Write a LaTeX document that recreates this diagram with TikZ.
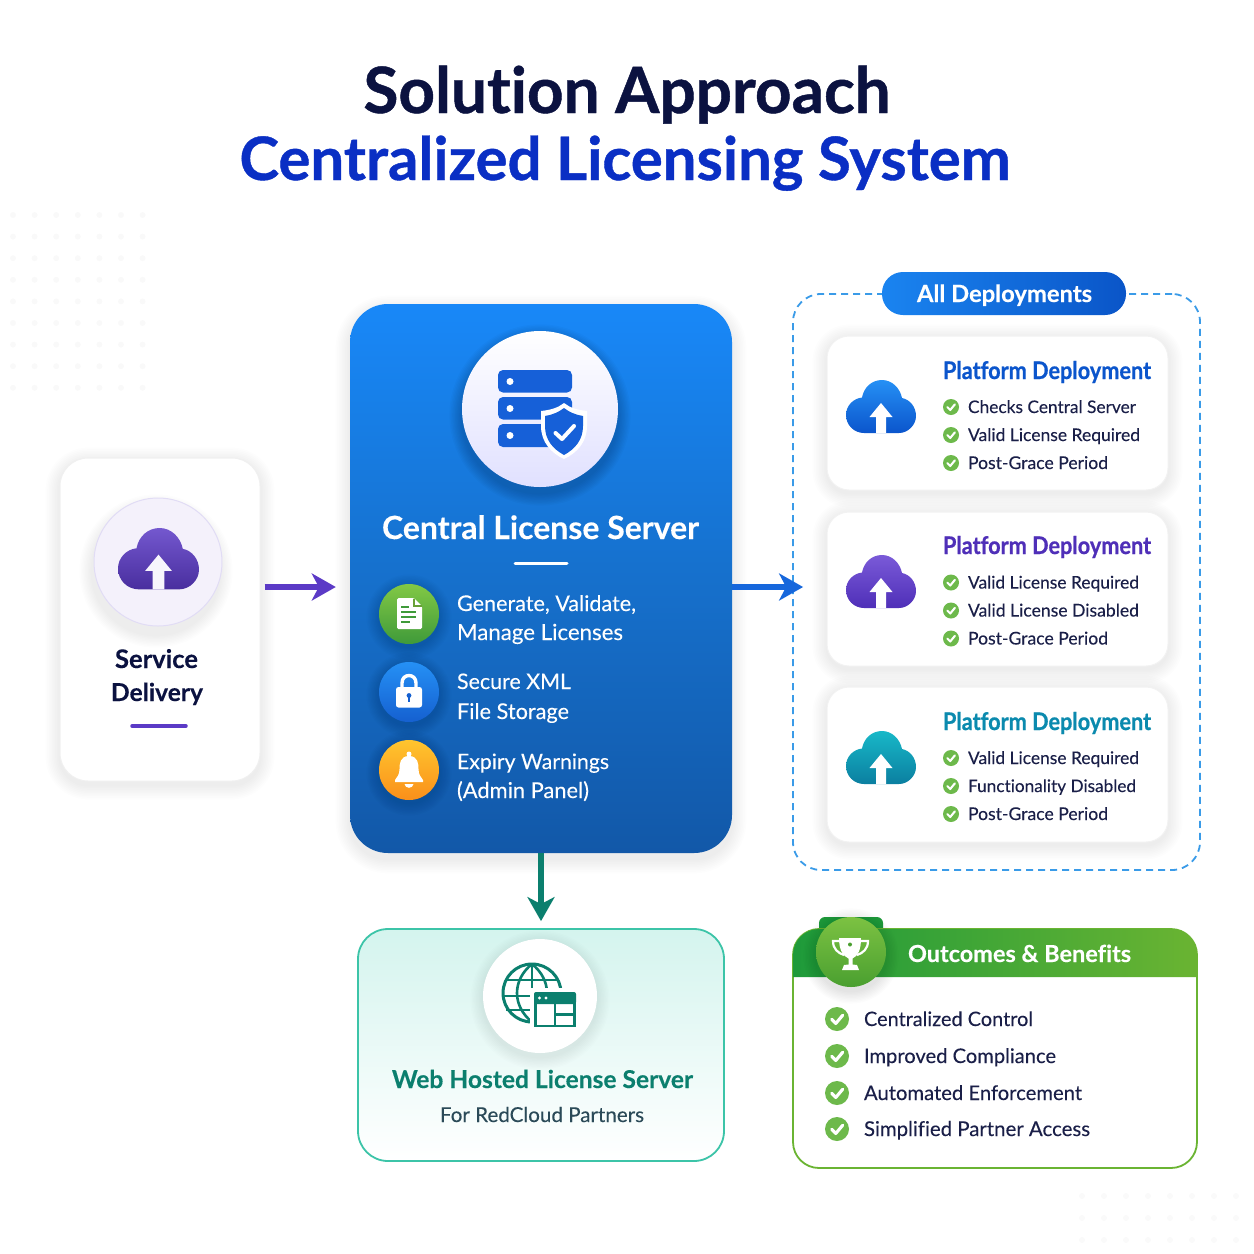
\documentclass[tikz,border=0pt]{standalone}
\usepackage{fontspec}
\usepackage{graphicx}
\setmainfont[Ligatures=NoCommon,FakeBold=0.12,BoldFeatures={FakeBold=0.25}]{Lato}
\newfontfamily\heavy[Ligatures=NoCommon,BoldFeatures={FakeBold=0.7}]{Lato}
\usetikzlibrary{arrows.meta,calc}
\definecolor{navy}{HTML}{0B1240}
\definecolor{ink}{HTML}{1A1F48}
\definecolor{royal}{HTML}{0A2FC4}
\definecolor{purp}{HTML}{5B3AC6}
\definecolor{arrowblue}{HTML}{1667DC}
\definecolor{teal}{HTML}{0B7F6E}
\definecolor{chk}{HTML}{6DB94B}
\definecolor{dash}{HTML}{3A9BE8}
\definecolor{HTMLa}{HTML}{1888F8}
\definecolor{HTMLb}{HTML}{1258A8}
\definecolor{HTMLc}{HTML}{1670CC}
\definecolor{HTMLd}{HTML}{1660D8}
\definecolor{HTMLe}{HTML}{82C845}
\definecolor{HTMLf}{HTML}{3F9A3A}
\definecolor{HTMLg}{HTML}{2590F5}
\definecolor{HTMLh}{HTML}{1560D0}
\definecolor{HTMLi}{HTML}{FFC52E}
\definecolor{HTMLj}{HTML}{FA8F1A}
\definecolor{HTMLk}{HTML}{1A84F0}
\definecolor{HTMLl}{HTML}{0A55C8}
\definecolor{HTMLm}{HTML}{0B55CC}
\definecolor{HTMLn}{HTML}{7A5AD8}
\definecolor{HTMLo}{HTML}{4F2FB8}
\definecolor{HTMLp}{HTML}{18B8C8}
\definecolor{HTMLq}{HTML}{0B7FA0}
\definecolor{HTMLr}{HTML}{0B8AAE}
\definecolor{HTMLs}{HTML}{3CC4A8}
\definecolor{HTMLt}{HTML}{D4F4EE}
\definecolor{HTMLu}{HTML}{2B4A58}
\definecolor{HTMLv}{HTML}{1E9A3A}
\definecolor{HTMLw}{HTML}{6AB432}
\definecolor{HTMLx}{HTML}{7CC242}
\definecolor{HTMLy}{HTML}{4A9F30}
\newcommand{\lbl}[7]{\node[inner sep=0pt,outer sep=0pt,anchor=#2,text=#6] (#1) at (#3,#4) {\resizebox{#5pt}{!}{#7}};}
\newcommand{\softshadow}[6]{% x0 y0 x1 y1 radius dy
  \foreach \k in {1,...,9}{
    \fill[shadowc,opacity=0.007,rounded corners=#5pt+\k*1.6pt]
      (#1-\k*1.6,#2+#6-\k*1.6) rectangle (#3+\k*1.6,#4+#6+\k*1.6);
  }}
\newcommand{\roundshadow}[5]{% x y r dy opacity
  \foreach \k in {1,...,9}{
    \fill[black,opacity=#5] (#1,#2+#4) circle (#3+\k*1.4);
  }}
\newcommand{\chkmark}[3]{% x y r
  \fill[chk] (#1,#2) circle (#3);
  \draw[white,line width=#3*0.26pt,line cap=round,line join=round]
    (#1-0.45*#3,#2+0.02*#3) -- (#1-0.1*#3,#2+0.37*#3) -- (#1+0.48*#3,#2-0.32*#3);
}
\newcommand{\cloudicon}[6]{% cx cy scale top bottom arrowcolor
  \begin{scope}[shift={(#1,#2)},scale=#3]
    \shade[top color=#4,bottom color=#5]
      (-17,25) .. controls (-27,25) and (-35,17) .. (-35,7)
      .. controls (-35,-2) and (-28,-9.5) .. (-19,-10.5)
      .. controls (-17,-21) and (-9,-28) .. (1,-28)
      .. controls (11,-28) and (19,-20) .. (21,-10)
      .. controls (29,-8.5) and (35,-1) .. (35,8)
      .. controls (35,17) and (27,25) .. (18,25) -- cycle;
    \fill[#6] (0,-5) -- (11.5,9) -- (5,9) -- (5,25) -- (-5,25) -- (-5,9) -- (-11.5,9) -- cycle;
  \end{scope}
}
\newcommand{\tallbold}[1]{\scalebox{1}[1.12]{\heavy\bfseries #1}}
\colorlet{shadowc}{blue!40!black}
\begin{document}
\begin{tikzpicture}[x=1pt,y=-1pt,
  cardbox/.style={draw=#1,line width=1pt,fill=white,rounded corners=22pt,inner sep=0pt},
  arrowline/.style={line width=6pt,-{Stealth[length=24pt,width=27pt,inset=7pt]}}]
\useasboundingbox (0,0) rectangle (1254,1254);
\fill[white] (0,0) rectangle (1254,1254);
% faint background dots
\foreach \i in {0,...,6}{\foreach \j in {0,...,8}{
  \fill[black,opacity=0.025] (13+\i*21.6,215+\j*21.6) circle (3);}}
\foreach \i in {0,...,7}{\foreach \j in {0,...,2}{
  \fill[black,opacity=0.02] (1082+\i*22,1196+\j*22) circle (3);}}
% title
\lbl{t1}{base}{627}{113}{527}{navy}{\heavy\bfseries Solution Approach}
\lbl{t2}{base}{625}{180}{771}{royal}{\heavy\bfseries Centralized Licensing System}
% service delivery card
\softshadow{60}{458}{260}{781}{28}{4}
\node[draw=black!6,line width=1pt,fill=white,rounded corners=28pt,minimum width=200pt,minimum height=323pt,inner sep=0pt] (svc) at (160,619.5) {};
\roundshadow{156}{566}{64}{5}{0.008}
\node[circle,draw=purp!18,line width=1pt,fill=purp!7,minimum size=128pt,inner sep=0pt] (svcicon) at (158,562) {};
\cloudicon{158.5}{560.4}{1.157}{purp!85}{purp!80!black}{purp!5}
\lbl{s1}{base}{156.5}{668}{83}{navy}{\bfseries Service}
\lbl{s2}{base}{157}{701}{92}{navy}{\bfseries Delivery}
\draw[purp,line width=3.5pt,line cap=round] (132,726) -- (186,726);
% central panel
\softshadow{350}{304}{732}{853}{38}{6}
\node[rounded corners=38pt,minimum width=382pt,minimum height=549pt,inner sep=0pt,top color=HTMLa,bottom color=HTMLb,middle color=HTMLc] (central) at (541,578.5) {};
\roundshadow{540}{415}{78}{0}{0.02}
\node[circle,minimum size=156pt,inner sep=0pt,top color=white,bottom color=white!88!blue] (srvicon) at (540,409) {};
\fill[HTMLd,rounded corners=5pt] (498,370) rectangle (572,392.5);
\fill[HTMLd,rounded corners=5pt] (498,397) rectangle (572,419.5);
\fill[HTMLd,rounded corners=5pt] (498,424) rectangle (572,447);
\foreach \yy in {381.5,408.5,435.5}{\fill[white] (510,\yy) circle (3.5);}
% shield
\fill[white] (564,403) .. controls (570,408) and (578,410) .. (587,411) -- (587,426)
  .. controls (587,442) and (577,453) .. (564,459) .. controls (551,453) and (541,442) .. (541,426) -- (541,411)
  .. controls (550,410) and (558,408) .. (564,403) -- cycle;
\fill[HTMLd] (564,408) .. controls (569,412) and (576,415) .. (583,416) -- (583,426)
  .. controls (583,440) and (575,449) .. (564,455) .. controls (553,449) and (545,440) .. (545,426) -- (545,416)
  .. controls (552,415) and (559,412) .. (564,408) -- cycle;
\draw[white,line width=4pt,line cap=round,line join=round] (555.5,433) -- (562,439) -- (574,426);
\lbl{ctitle}{base}{540.5}{539}{317}{white}{\bfseries Central License Server}
\draw[white,line width=3pt,line cap=round] (515,563) -- (567,563);
% feature circles
\roundshadow{409}{617}{30}{0}{0.012}
\node[circle,minimum size=60pt,inner sep=0pt,top color=HTMLe,bottom color=HTMLf] (fa) at (409,614) {};
\roundshadow{409}{695}{30}{0}{0.012}
\node[circle,minimum size=60pt,inner sep=0pt,top color=HTMLg,bottom color=HTMLh] (fb) at (409,692) {};
\roundshadow{409}{773}{30}{0}{0.012}
\node[circle,minimum size=60pt,inner sep=0pt,top color=HTMLi,bottom color=HTMLj] (fc) at (409,770) {};
% doc icon
\fill[white,rounded corners=1.5pt] (397,598) -- (414,598) -- (422,606) -- (422,629) -- (397,629) -- cycle;
\draw[HTMLe!80!black,line width=1.6pt] (414,599) -- (414,606) -- (421.5,606);
\foreach \yy/\xx in {607/409,612/416,617/416,622/410}{\draw[HTMLf,line width=2pt] (401,\yy) -- (\xx,\yy);}
% lock icon
\draw[white,line width=3.4pt] (402,688) -- (402,683) .. controls (402,673) and (416,673) .. (416,683) -- (416,688);
\fill[white,rounded corners=2.5pt] (396,687) rectangle (422,707.5);
\fill[HTMLh] (409,695.5) circle (2.4);
\fill[HTMLh] (408,696) rectangle (410,702);
% bell icon
\fill[white] (409,754) circle (2.5);
\fill[white] (409,756) .. controls (400,756) and (399.5,764) .. (399.5,769) .. controls (399.5,775) and (397,777) .. (395,780)
  -- (395,782) -- (423,782) -- (423,780) .. controls (421,777) and (418.5,775) .. (418.5,769)
  .. controls (418.5,764) and (418,756) .. (409,756) -- cycle;
\fill[white] (404.5,784) .. controls (405,789) and (413,789) .. (413.5,784) -- cycle;
% feature text
\lbl{f1a}{base west}{457}{611}{179}{white}{Generate, Validate,}
\lbl{f1b}{base west}{457}{640}{166}{white}{Manage Licenses}
\lbl{f2a}{base west}{457}{689}{114}{white}{Secure XML}
\lbl{f2b}{base west}{457}{719}{112}{white}{File Storage}
\lbl{f3a}{base west}{457}{769}{152}{white}{Expiry Warnings}
\lbl{f3b}{base west}{457}{798}{132}{white}{(Admin Panel)}
% deployments group
\node[draw=dash,line width=1.8pt,dash pattern=on 7pt off 5pt,rounded corners=28pt,minimum width=407pt,minimum height=576pt,inner sep=0pt] (deploy) at (996.5,582) {};
\node[rounded corners=21pt,minimum width=244pt,minimum height=43pt,inner sep=0pt,left color=HTMLk,right color=HTMLl] (pill) at (1004,293.5) {};
\lbl{pilltext}{base}{1004.5}{302}{175}{white}{\bfseries All Deployments}
% deployment cards
\softshadow{827}{336}{1168}{490}{22}{3}
\node[cardbox=black!5,minimum width=341pt,minimum height=154pt] (c1) at (997.5,413) {};
\softshadow{827}{512}{1168}{666}{22}{3}
\node[cardbox=black!5,minimum width=341pt,minimum height=154pt] (c2) at (997.5,589) {};
\softshadow{827}{687}{1168}{842}{22}{3}
\node[cardbox=black!5,minimum width=341pt,minimum height=155pt] (c3) at (997.5,764.5) {};
\cloudicon{881}{408}{1}{HTMLg}{HTMLm}{white}
\cloudicon{881}{583}{1}{HTMLn}{HTMLo}{white}
\cloudicon{881}{759}{1}{HTMLp}{HTMLq}{white}
\lbl{c1t}{base west}{943}{379}{208}{HTMLm}{\tallbold{Platform Deployment}}
\lbl{c2t}{base west}{943}{554}{208}{HTMLo}{\tallbold{Platform Deployment}}
\lbl{c3t}{base west}{943}{730}{208}{HTMLr}{\tallbold{Platform Deployment}}
\foreach \yy in {407,435,463,582.5,610.5,638.5,758,786,814}{\chkmark{951}{\yy}{8}}
\lbl{c1a}{base west}{968}{413}{168}{ink}{Checks Central Server}
\lbl{c1b}{base west}{968}{441}{172}{ink}{Valid License Required}
\lbl{c1c}{base west}{968}{469}{140}{ink}{Post-Grace Period}
\lbl{c2a}{base west}{968}{588.5}{171}{ink}{Valid License Required}
\lbl{c2b}{base west}{968}{616.5}{171}{ink}{Valid License Disabled}
\lbl{c2c}{base west}{968}{644.5}{140}{ink}{Post-Grace Period}
\lbl{c3a}{base west}{968}{764}{171}{ink}{Valid License Required}
\lbl{c3b}{base west}{968}{792}{168}{ink}{Functionality Disabled}
\lbl{c3c}{base west}{968}{820}{140}{ink}{Post-Grace Period}
% web hosted box
\node[draw=HTMLs,line width=1.8pt,rounded corners=30pt,minimum width=366pt,minimum height=232pt,inner sep=0pt,top color=HTMLt,middle color=white,bottom color=white] (web) at (541,1045) {};
\roundshadow{540}{1000}{57}{0}{0.008}
\node[circle,fill=white,minimum size=114pt,inner sep=0pt] (webicon) at (540,996) {};
\draw[teal,line width=3pt] (532,993) circle (29);
\draw[teal,line width=2.6pt] (532,964) .. controls (512,980) and (512,1006) .. (532,1022);
\draw[teal,line width=2.6pt] (532,964) .. controls (552,980) and (552,1006) .. (532,1022);
\draw[teal,line width=2.6pt] (532,964) -- (532,1022);
\draw[teal,line width=2.6pt] (506,980) -- (558,980);
\draw[teal,line width=2.6pt] (503,996) -- (561,996);
\draw[teal,line width=2.6pt] (506,1010) -- (558,1010);
\fill[white] (530,988) rectangle (580,1031);
\fill[teal,rounded corners=2pt] (534,992) rectangle (576,1004);
\fill[white] (539.5,998) circle (1.7) (546,998) circle (1.7);
\draw[teal,line width=2.6pt] (535.5,1003) rectangle (574.5,1026);
\draw[teal,line width=2.6pt] (555,1003) -- (555,1026) (555,1014.5) -- (574.5,1014.5);
\lbl{w1}{base}{542.5}{1088}{301}{teal}{\bfseries Web Hosted License Server}
\lbl{w2}{base}{542}{1122}{204}{HTMLu}{For RedCloud Partners}
% outcomes box
\fill[HTMLv,rounded corners=6pt] (819,917) rectangle (883,940);
\node[draw=HTMLw,line width=1.8pt,fill=white,rounded corners=26pt,minimum width=404pt,minimum height=239pt,inner sep=0pt] (out) at (995,1048.5) {};
\shade[left color=HTMLv,right color=HTMLw] (793,977) -- (793,955) .. controls (793,940.6) and (804.6,929) .. (819,929) -- (1171,929) .. controls (1185.4,929) and (1197,940.6) .. (1197,955) -- (1197,977) -- cycle;
\roundshadow{851}{956}{35}{0}{0.01}
\node[circle,minimum size=70pt,inner sep=0pt,top color=HTMLx,bottom color=HTMLy] (troph) at (851,952) {};
% trophy
\fill[white] (839,938) -- (861,938) .. controls (861,950) and (858,956) .. (852.5,958.5) -- (852.5,964.5) -- (857,965) -- (859,970) -- (842,970) -- (844,965) -- (848.5,964.5) -- (848.5,958.5) .. controls (843,956) and (839,950) .. (839,938) -- cycle;
\draw[white,line width=2.2pt] (840,941) -- (833,941) .. controls (833,949) and (838,953) .. (844,955);
\draw[white,line width=2.2pt] (860,941) -- (868,941) .. controls (868,949) and (863,953) .. (857,955);
\fill[HTMLy] (850,944.5) circle (2);
\lbl{outt}{base}{1019.5}{962}{223}{white}{\bfseries Outcomes \& Benefits}
\foreach \yy in {1019,1056,1093,1129}{\chkmark{837}{\yy}{12}}
\lbl{o1}{base west}{864}{1026}{169}{ink}{Centralized Control}
\lbl{o2}{base west}{864}{1063}{192}{ink}{Improved Compliance}
\lbl{o3}{base west}{864}{1100}{218}{ink}{Automated Enforcement}
\lbl{o4}{base west}{864}{1136}{226}{ink}{Simplified Partner Access}
% connectors
\coordinate (row) at (0,587);
\draw[arrowline,purp,shorten <=4pt,shorten >=14pt] (svc.east |- row) -- (central.west |- row);
\draw[arrowline,arrowblue,shorten >=-11pt] (central.east |- row) -- (deploy.west |- row);
\draw[arrowline,teal,shorten >=7pt] (central.south) -- (web.north);
\end{tikzpicture}
\end{document}
